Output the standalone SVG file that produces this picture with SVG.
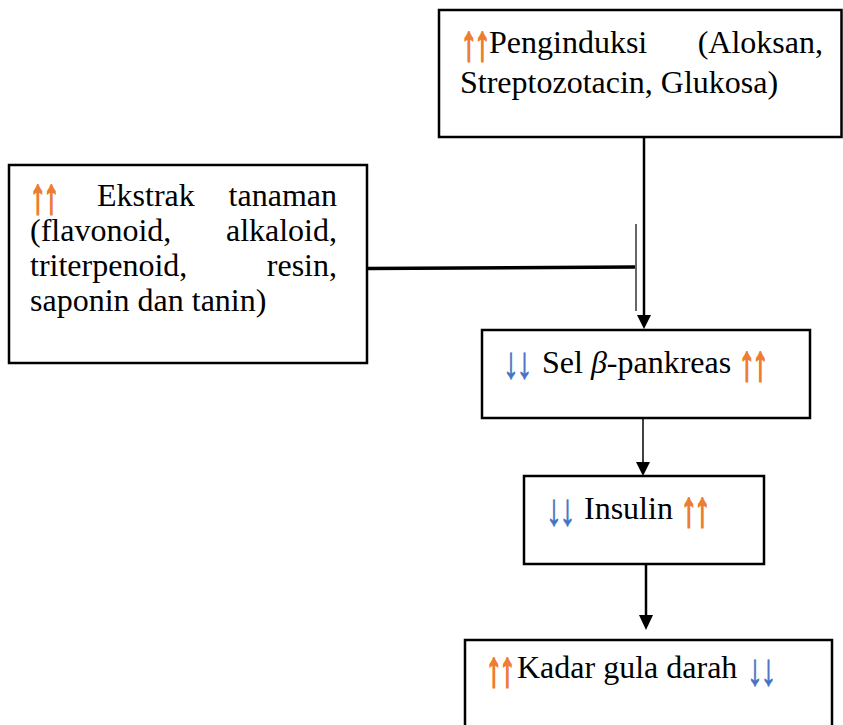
<svg xmlns="http://www.w3.org/2000/svg" width="843" height="725" viewBox="0 0 843 725">
<defs>
<style>
.box{fill:#fff;stroke:#000;stroke-width:2.5}
.t{font-family:"Liberation Serif","Times New Roman",serif;font-size:32px;fill:#000}
.up{font-family:"Liberation Serif","Times New Roman",serif;font-size:32px;fill:#ED7D31;stroke:#ED7D31;stroke-width:1.3;letter-spacing:-2.5px}
.dn{font-family:"Liberation Serif","Times New Roman",serif;font-size:32px;fill:#4472C4;stroke:#4472C4;stroke-width:0.5;letter-spacing:-2.5px}
.ln{stroke:#000;fill:none}
.head{fill:#000}
</style>
</defs>
<rect width="843" height="725" fill="#fff"/>
<g id="connectors">
<line class="ln" x1="644" y1="137" x2="644" y2="318" stroke-width="2.5"/>
<polygon class="head" points="637,315 651,315 644,329"/>
<line class="ln" x1="636" y1="224" x2="636" y2="311" stroke-width="1.2"/>
<line class="ln" x1="367" y1="268.5" x2="635" y2="267" stroke-width="3.5"/>
<line class="ln" x1="643" y1="418" x2="643" y2="465" stroke-width="1.5"/>
<polygon class="head" points="636,462 650,462 643,476"/>
<line class="ln" x1="646" y1="564" x2="646" y2="618" stroke-width="2.5"/>
<polygon class="head" points="639,615 653,615 646,630"/>
</g>
<g id="node-penginduksi">
<rect class="box" x="439" y="10" width="402.5" height="127"/>
<text class="up" transform="translate(461,60) scale(1,1.55)">↑↑</text>
<text class="t" y="53"><tspan x="489">Penginduksi</tspan><tspan x="823" text-anchor="end">(Aloksan,</tspan></text>
<text class="t" x="460" y="93">Streptozotacin, Glukosa)</text>
</g>
<g id="node-ekstrak">
<rect class="box" x="9" y="165" width="358" height="198"/>
<text class="up" transform="translate(30,213) scale(1,1.55)">↑↑</text>
<text class="t" y="206"><tspan x="97">Ekstrak</tspan><tspan x="337" text-anchor="end">tanaman</tspan></text>
<text class="t" y="241"><tspan x="30">(flavonoid,</tspan><tspan x="337" text-anchor="end">alkaloid,</tspan></text>
<text class="t" y="276"><tspan x="30">triterpenoid,</tspan><tspan x="337" text-anchor="end">resin,</tspan></text>
<text class="t" x="30" y="311">saponin dan tanin)</text>
</g>
<g id="node-sel">
<rect class="box" x="482" y="330" width="328" height="88"/>
<text class="dn" transform="translate(503,378) scale(1,1.4)">↓↓</text>
<text class="t" y="373"><tspan x="542">Sel </tspan><tspan font-style="italic">β</tspan><tspan>-pankreas</tspan></text>
<text class="up" transform="translate(739,380) scale(1,1.55)">↑↑</text>
</g>
<g id="node-insulin">
<rect class="box" x="524" y="476" width="240" height="88"/>
<text class="dn" transform="translate(546,525) scale(1,1.4)">↓↓</text>
<text class="t" x="584" y="519">Insulin</text>
<text class="up" transform="translate(681,526) scale(1,1.55)">↑↑</text>
</g>
<g id="node-kadar">
<rect class="box" x="465" y="640" width="367" height="100"/>
<text class="up" transform="translate(486,686) scale(1,1.55)">↑↑</text>
<text class="t" x="517" y="678">Kadar gula darah</text>
<text class="dn" transform="translate(747,685) scale(1,1.4)">↓↓</text>
</g>
</svg>
